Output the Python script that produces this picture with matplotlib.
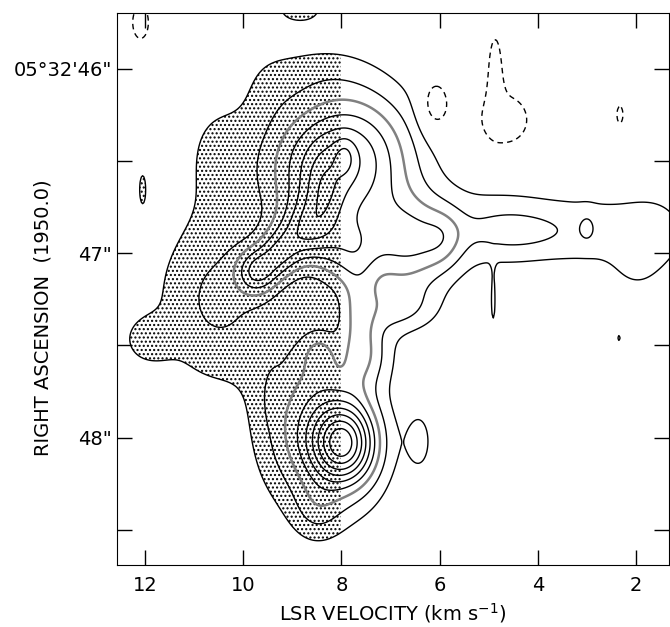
import numpy as np
import matplotlib
matplotlib.use('Agg')
import matplotlib.pyplot as plt
from matplotlib.patches import Rectangle

# emission components:
# LSR velocity (km/s), RA offset (arcsec past 05h32m), peak, velocity width, RA width
comp_vel = [7.90, 7.93, 7.90, 8.75, 9.25, 9.72, 8.35, 6.60, 7.35, 5.90,
            6.90, 7.65, 9.10, 8.60, 9.50, 10.5, 10.5, 11.95, 9.00, 8.50,
            8.40, 8.45, 9.40, 7.97, 7.97, 7.97, 4.80, 4.40, 2.80, 1.60,
            2.00, 3.00, 4.91, 2.35, 6.40, 12.05, 8.85]
comp_ra = [46.50, 46.48, 47.00, 46.88, 47.00, 47.10, 46.70, 46.95, 47.55, 46.92,
           47.30, 47.38, 46.60, 46.00, 46.10, 46.45, 47.25, 47.47, 47.95, 48.40,
           47.55, 47.55, 47.77, 47.97, 48.09, 48.03, 46.86, 46.88, 46.88, 46.90,
           47.10, 46.86, 47.28, 47.46, 48.02, 46.65, 45.68]
comp_amp = [6.0, 1.2, 3.0, 3.0, 3.0, 3.6, 2.0, 3.5, 1.5, 1.2,
            2.0, 1.8, 1.0, 0.6, 0.5, 1.1, 2.2, 1.3, 2.2, 1.2,
            1.4, 1.1, 0.8, 3.0, 3.0, 4.0, 1.6, 0.9, 1.3, 1.2,
            0.6, 0.7, 1.15, 1.1, 1.2, 1.1, 1.4]
comp_wv = [0.95, 0.15, 0.50, 0.35, 0.30, 0.30, 0.30, 0.60, 0.35, 0.30,
           0.60, 0.25, 0.50, 0.80, 0.40, 0.60, 0.90, 0.35, 0.60, 0.35,
           0.50, 0.20, 0.12, 0.42, 0.42, 0.62, 0.90, 0.70, 0.90, 0.50,
           0.35, 0.12, 0.05, 0.05, 0.22, 0.09, 0.40]
comp_wr = [0.27, 0.07, 0.15, 0.12, 0.10, 0.09, 0.15, 0.18, 0.12, 0.12,
           0.10, 0.22, 0.25, 0.12, 0.15, 0.25, 0.33, 0.09, 0.30, 0.12,
           0.20, 0.07, 0.09, 0.12, 0.12, 0.25, 0.17, 0.07, 0.16, 0.15,
           0.10, 0.06, 0.12, 0.03, 0.14, 0.11, 0.06]

# negative features, drawn dashed
neg_vel = [4.87, 4.70, 6.10, 2.33, 12.09]
neg_ra = [45.98, 46.28, 46.20, 46.25, 45.75]
neg_amp = [-1.4, -1.4, -2.0, -1.2, -1.3]
neg_wv = [0.12, 0.58, 0.23, 0.10, 0.22]
neg_wr = [0.16, 0.16, 0.11, 0.075, 0.12]

levels = [1, 2, 3, 4, 5, 6, 7, 8, 9]
gray_level = 3

vel = np.linspace(1.2, 12.7, 460)
ra = np.linspace(45.6, 48.8, 420)
V, R = np.meshgrid(vel, ra)
Z = np.zeros_like(V)
for v0, r0, a, wv, wr in zip(comp_vel + neg_vel, comp_ra + neg_ra, comp_amp + neg_amp,
                             comp_wv + neg_wv, comp_wr + neg_wr):
    Z += a * np.exp(-0.5 * (((V - v0) / wv) ** 2 + ((R - r0) / wr) ** 2))

plt.rcParams['font.family'] = ['DejaVu Sans']
plt.rcParams['hatch.linewidth'] = 1.0
plt.rcParams['hatch.color'] = 'black'

fig = plt.figure(figsize=(6.7, 6.27), dpi=100)
ax = fig.add_axes([0.1746, 0.0989, 0.824, 0.880])
x_lo, x_hi = 12.57, 1.33
y_top, y_bot = 45.70, 48.69

# stipple the half of the map with v > 8 km/s
cf = ax.contourf(V, R, Z, levels=[1, 100], colors='none', hatches=['....'])
cf.set_clip_path(Rectangle((8.0, y_top), x_lo - 8.0, y_bot - y_top, transform=ax.transData))

ax.contour(V, R, Z, levels=[l for l in levels if l != gray_level], colors='black', linewidths=1.0)
ax.contour(V, R, Z, levels=[gray_level], colors='0.5', linewidths=1.8)
ax.contour(V, R, Z, levels=[-1], colors='black', linewidths=1.0, linestyles=[(0, (4, 3))])

ax.set_xlim(x_lo, x_hi)
ax.set_ylim(y_bot, y_top)
ax.set_xticks([12, 10, 8, 6, 4, 2])
ax.set_yticks([46, 47, 48])
ax.set_yticklabels(['05°32\'46"', '47"', '48"'])
ax.set_yticks([46.5, 47.5, 48.5], minor=True)
ax.tick_params(axis='both', which='both', direction='in', top=True, right=True,
               length=11, width=1.0, labelsize=14)
ax.tick_params(axis='x', pad=8)
ax.set_xlabel('LSR VELOCITY (km s$^{-1}$)', fontsize=14)
fig.text(43 / 670, 1 - 318 / 627, 'RIGHT ASCENSION  (1950.0)', rotation=90,
         ha='center', va='center', fontsize=14)

fig.savefig('out.png', dpi=100)
